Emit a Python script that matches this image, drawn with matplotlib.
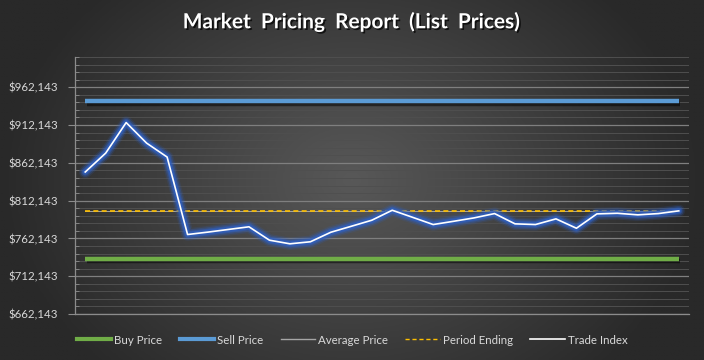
import numpy as np
import matplotlib
matplotlib.use("Agg")
import matplotlib.pyplot as plt
import matplotlib.patheffects as pe
from matplotlib.ticker import MultipleLocator, FuncFormatter
from matplotlib.lines import Line2D

# Data
trade_index = [850000, 875000, 915400, 888200, 869800, 767300, 770500, 774000, 777500, 759800,
               755000, 757700, 770300, 778200, 786200, 799400, 790000, 780500, 784800, 789300,
               795000, 781400, 780500, 788000, 775600, 794600, 795400, 793300, 795000, 798600]
buy_price = 735400
sell_price = 943300
period_ending = 798500
y_min, y_max = 662143, 1002143

n = len(trade_index)
periods = np.arange(n)
avg_price = np.mean(trade_index)

plt.rcParams['font.family'] = ['Lato', 'DejaVu Sans']

fig = plt.figure(figsize=(7.04, 3.60), dpi=100)

# dark radial background
bg = fig.add_axes([0, 0, 1, 1], zorder=-10)
gx, gy = np.meshgrid(np.linspace(-1, 1, 400), np.linspace(-1, 1, 200))
r = np.sqrt((gx / 1.0) ** 2 + (gy / 1.5) ** 2)
bg.imshow(np.clip(r, 0, 1), cmap=matplotlib.colors.LinearSegmentedColormap.from_list(
    "bg", ["#585858", "#292929"]), aspect="auto", extent=[0, 1, 0, 1])
bg.axis("off")

ax = fig.add_axes([75 / 704, 1 - 314 / 360, 614 / 704, 257 / 360])
ax.set_facecolor("none")

shadow = [pe.SimpleLineShadow(offset=(1, -1.5), shadow_color="black", alpha=0.5), pe.Normal()]
ax.plot(periods, [sell_price] * n, color="#5b9bd5", lw=3.2, solid_capstyle="butt", path_effects=shadow, zorder=4)
ax.plot(periods, [buy_price] * n, color="#70ad47", lw=3.2, solid_capstyle="butt", path_effects=shadow, zorder=4)
ax.plot(periods, [avg_price] * n, color="#a6a6a6", lw=0.7, zorder=3)
ax.plot(periods, [period_ending] * n, color="#ffc000", lw=1.2, ls=(0, (3, 2)), zorder=3)

# trade index with blue glow
for lw, a in [(9, 0.15), (7, 0.3), (5, 0.5), (3.5, 0.7)]:
    ax.plot(periods, trade_index, color="#2f5fc0", lw=lw, alpha=a, solid_joinstyle="round",
            solid_capstyle="round", zorder=5)
ax.plot(periods, trade_index, color="white", lw=1.2, zorder=6)

ax.set_xlim(-0.5, n - 0.5)
ax.set_ylim(y_min, y_max)
ax.yaxis.set_major_locator(MultipleLocator(50000, offset=y_min % 50000))
ax.yaxis.set_minor_locator(MultipleLocator(10000, offset=y_min % 10000))
ax.yaxis.set_major_formatter(FuncFormatter(lambda v, p: "${:,.0f}".format(v) if v < 1000000 else ""))
ax.set_xticks([])

ax.grid(which="major", axis="y", color="#7f7f7f", lw=0.9)
ax.grid(which="minor", axis="y", color="#4f4f4f", lw=0.7)
ax.set_axisbelow(True)

for s in ["top", "right"]:
    ax.spines[s].set_visible(False)
for s in ["left", "bottom"]:
    ax.spines[s].set_color("#8c8c8c")
    ax.spines[s].set_linewidth(0.9)
ax.tick_params(axis="y", which="major", colors="#8c8c8c", labelcolor="#d9d9d9", labelsize=8.3,
               length=5, direction="out", pad=7)
ax.tick_params(axis="y", which="minor", colors="#8c8c8c", length=3, direction="in")

fig.text(0.5, 1 - 22 / 360, "Market  Pricing  Report  (List  Prices)", ha="center", va="center",
         color="white", fontsize=15, fontweight="bold",
         path_effects=[pe.withSimplePatchShadow(offset=(1.2, -1.2), shadow_rgbFace="black", alpha=0.7)])

handles = [
    Line2D([], [], color="#70ad47", lw=3),
    Line2D([], [], color="#5b9bd5", lw=3),
    Line2D([], [], color="#a6a6a6", lw=1),
    Line2D([], [], color="#ffc000", lw=1, ls=(0, (3, 2))),
    Line2D([], [], color="white", lw=1.2),
]
labels = ["Buy Price", "Sell Price", "Average Price", "Period Ending", "Trade Index"]
leg = fig.legend(handles, labels, loc="center", bbox_to_anchor=(0.5, 1 - 340 / 360), ncol=5,
                 frameon=False, fontsize=8.3, handlelength=3.0, handletextpad=0.25, columnspacing=1.5)
for t in leg.get_texts():
    t.set_color("#d9d9d9")

fig.savefig("out.png", dpi=100)
